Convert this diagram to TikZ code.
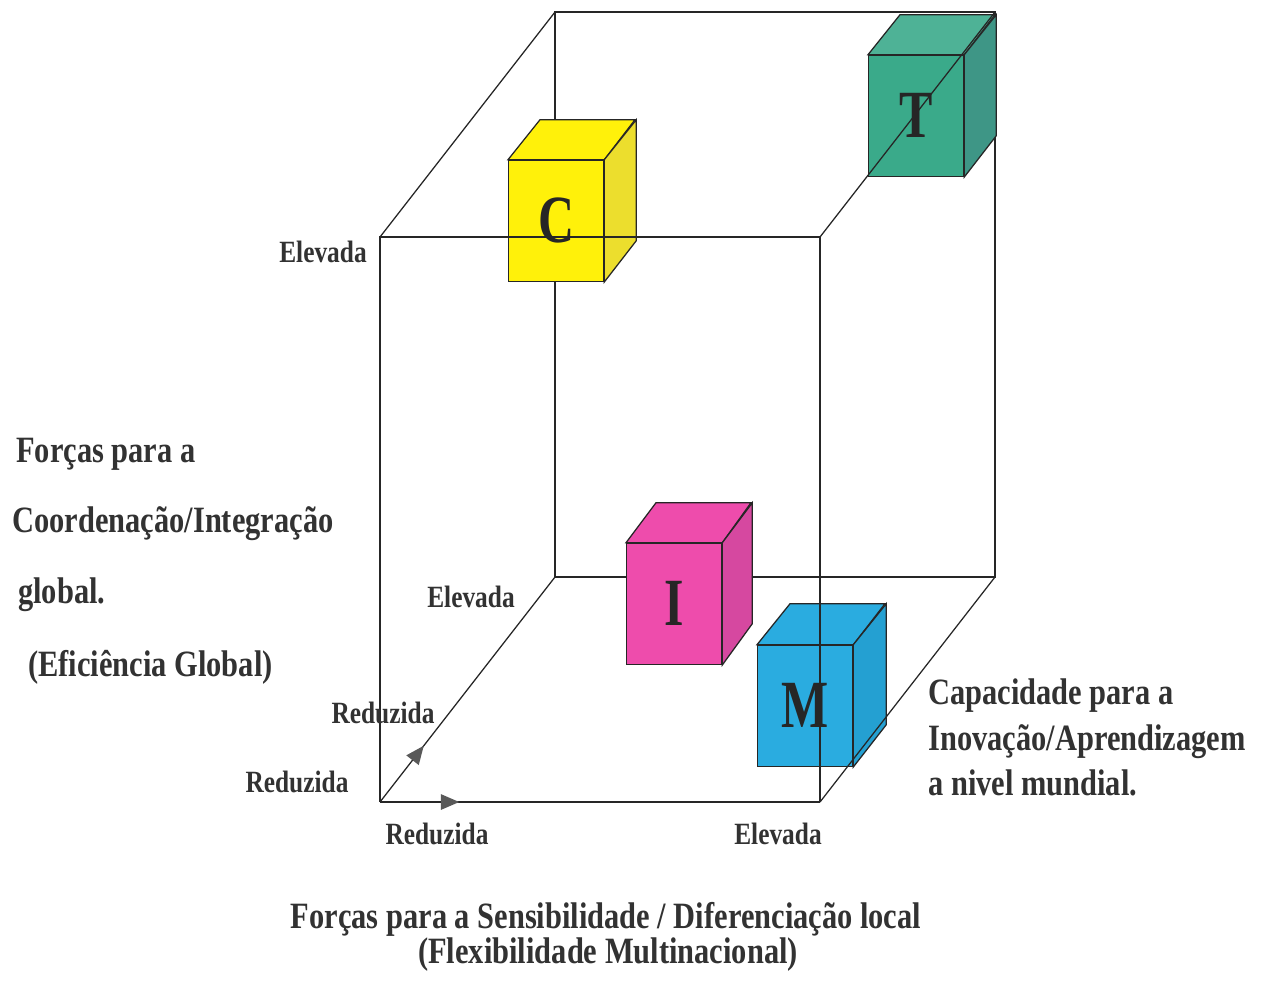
\documentclass[tikz,border=0pt]{standalone}
\usepackage{fontspec}
\setmainfont{Liberation Serif}[FakeStretch=0.82]
\newfontfamily\letrafont{Liberation Serif}[FakeStretch=0.74]
\usetikzlibrary{arrows.meta,decorations.markings}
\definecolor{amarelo}{RGB}{255,241,10}
\definecolor{amareloesc}{RGB}{236,222,45}
\definecolor{verde}{RGB}{58,170,138}
\definecolor{verdeesc}{RGB}{62,150,134}
\definecolor{rosa}{RGB}{238,76,172}
\definecolor{rosaesc}{RGB}{214,72,160}
\definecolor{azul}{RGB}{42,172,224}
\definecolor{azulesc}{RGB}{36,160,210}
\definecolor{tinta}{RGB}{50,50,50}

\begin{document}
\begin{tikzpicture}[x=0.025cm,y=-0.025cm]
    \tikzset{%
      aresta/.style={line width=0.9pt, black!85},
      face/.style={draw=black!85, line width=0.9pt, inner sep=0pt,
        minimum width=2.375cm, minimum height=3.025cm,
        font=\letrafont\bfseries\fontsize{48}{48}\selectfont, text=black!85},
      rotulo/.style={font=\bfseries\fontsize{22}{22}\selectfont,
        text=tinta, inner sep=0pt, anchor=base},
      texto/.style={font=\bfseries\fontsize{26.4}{26.4}\selectfont,
        text=tinta, inner sep=0pt, anchor=base west},
      seta/.style={postaction={decorate}, decoration={markings,
          mark=at position #1 with {\arrow[black!65]{Triangle[length=13pt, width=11pt]}}}},
    }
    \useasboundingbox (0,0) rectangle (1262,982);

    % caixa grande
    \coordinate (P) at (380,802);
    \coordinate (Q) at (820,802);
    \coordinate (R) at (820,237);
    \coordinate (S) at (380,237);
    \coordinate (P0) at (555,577);
    \coordinate (Q0) at (995,577);
    \coordinate (R0) at (995,12);
    \coordinate (S0) at (555,12);

    \draw [aresta] (P0) -- (Q0) -- (R0) -- (S0) -- cycle;
    \draw [aresta] (S) -- (S0);
    \draw [aresta, seta=0.25] (P) -- (P0);

    % C
    \node[face, fill=amarelo, anchor=south west] (cC) at (508,282) {C};
    \filldraw [aresta, fill=amarelo] (cC.north west) -- ++(32,-40) -- ++(95,0) -- (cC.north east) -- cycle;
    \filldraw [aresta, fill=amareloesc] (cC.north east) -- ++(32,-40) -- ++(0,121) -- (cC.south east) -- cycle;

    % T
    \node[face, fill=verde, anchor=south west] (cT) at (868,177) {T};
    \filldraw [aresta, fill=verde!90!white] (cT.north west) -- ++(32,-40) -- ++(95,0) -- (cT.north east) -- cycle;
    \filldraw [aresta, fill=verdeesc] (cT.north east) -- ++(32,-40) -- ++(0,121) -- (cT.south east) -- cycle;

    % I
    \node[face, fill=rosa, anchor=south west] (cI) at (626,665) {I};
    \filldraw [aresta, fill=rosa] (cI.north west) -- ++(30,-40) -- ++(95,0) -- (cI.north east) -- cycle;
    \filldraw [aresta, fill=rosaesc] (cI.north east) -- ++(30,-40) -- ++(0,121) -- (cI.south east) -- cycle;

    % M
    \node[face, fill=azul, anchor=south west] (cM) at (757,767) {M};
    \filldraw [aresta, fill=azul] (cM.north west) -- ++(33,-41) -- ++(95,0) -- (cM.north east) -- cycle;
    \filldraw [aresta, fill=azulesc] (cM.north east) -- ++(33,-41) -- ++(0,121) -- (cM.south east) -- cycle;

    % frente
    \draw [aresta, seta=0.18] (P) -- (Q);
    \draw [aresta] (Q) -- (R) -- (S) -- (P);
    \draw [aresta] (R) -- (R0);
    \draw [aresta] (Q) -- (Q0);

    % eixos
    \node[rotulo] (ev1) at (323,262) {Elevada};
    \node[rotulo] (ev2) at (471,607) {Elevada};
    \node[rotulo] (rd1) at (383,723) {Reduzida};
    \node[rotulo] (rd2) at (297,792) {Reduzida};
    \node[rotulo] (rd3) at (437,844) {Reduzida};
    \node[rotulo] (ev3) at (778,844) {Elevada};

    \node[texto] (f1) at (16,462) {Forças para a};
    \node[texto] (f2) at (12,532) {Coordenação/Integração};
    \node[texto] (f3) at (18,603) {global.};
    \node[texto] (f4) at (28,676) {(Eficiência Global)};

    \node[texto] (g1) at (928,704) {Capacidade para a};
    \node[texto] (g2) at (928,750) {Inovação/Aprendizagem};
    \node[texto] (g3) at (928,795) {a nivel mundial.};

    \node[texto, anchor=base] (h1) at (606,928) {Forças para a Sensibilidade / Diferenciação local};
    \node[texto, anchor=base] (h2) at (608,963) {(Flexibilidade Multinacional)};
  \end{tikzpicture}
\end{document}
